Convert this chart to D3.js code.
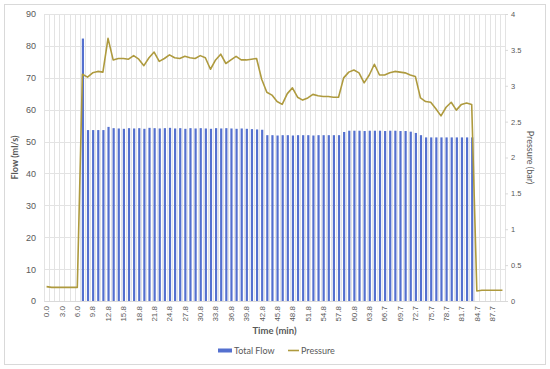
<!DOCTYPE html>
<html>
<head>
<meta charset="utf-8">
<script src="https://cdn.jsdelivr.net/npm/d3@7"></script>
<style>
  body { margin: 0; background: #fff; }
  svg { font-family: Lato, "Open Sans", sans-serif; }
  .tick text { fill: #595959; }
</style>
</head>
<body>
<svg width="550" height="369"></svg>
<script>
// time categories (min)
const times = [
  "0.0", "1.0", "2.0", "3.0", "4.0", "5.0", "6.0", "7.8", "8.8", "9.8",
  "10.8", "11.8", "12.8", "13.8", "14.8", "15.8", "16.8", "17.8", "18.8", "19.8",
  "20.8", "21.8", "22.8", "23.8", "24.8", "25.8", "26.8", "27.8", "28.8", "29.8",
  "30.8", "31.8", "32.8", "33.8", "34.8", "35.8", "36.8", "37.8", "38.8", "39.8",
  "40.8", "41.8", "42.8", "43.8", "44.8", "45.8", "46.8", "47.8", "48.8", "49.8",
  "50.8", "51.8", "52.8", "53.8", "54.8", "55.8", "56.8", "57.8", "58.8", "59.8",
  "60.8", "61.8", "62.8", "63.8", "64.8", "65.7", "66.7", "67.7", "68.7", "69.7",
  "70.7", "71.7", "72.7", "73.7", "74.7", "75.7", "76.7", "77.7", "78.7", "79.7",
  "80.7", "81.7", "82.7", "83.7", "84.7", "85.7", "86.7", "87.7", "88.7", "89.7"
];

// Total Flow (ml/s), null = no bar
const totalFlow = [
  null, null, null, null, null, null, null, 82.3, 53.6, 53.6,
  53.6, 53.6, 54.6, 54.2, 54.1, 54.0, 54.2, 54.1, 54.2, 54.0,
  54.3, 54.2, 54.1, 54.2, 54.3, 54.1, 54.2, 54.0, 54.2, 54.1,
  54.2, 54.1, 54.0, 54.2, 54.1, 54.2, 54.1, 54.0, 54.1, 54.0,
  53.9, 53.8, 53.7, 52.0, 52.0, 51.9, 52.0, 52.0, 51.9, 52.0,
  52.0, 52.0, 51.9, 52.0, 52.0, 52.0, 52.0, 52.0, 53.0, 53.4,
  53.4, 53.4, 53.3, 53.4, 53.4, 53.4, 53.3, 53.4, 53.4, 53.3,
  53.3, 53.1, 52.7, 52.0, 51.3, 51.3, 51.3, 51.3, 51.3, 51.3,
  51.3, 51.3, 51.3, 51.3, null, null, null, null, null, null
];

// Pressure (bar)
const pressure = [
  0.20, 0.19, 0.19, 0.19, 0.19, 0.19, 0.19, 3.16, 3.12, 3.18,
  3.20, 3.19, 3.66, 3.36, 3.38, 3.38, 3.37, 3.42, 3.37, 3.28,
  3.39, 3.47, 3.34, 3.38, 3.43, 3.39, 3.38, 3.41, 3.39, 3.38,
  3.42, 3.39, 3.23, 3.36, 3.44, 3.31, 3.36, 3.41, 3.36, 3.36,
  3.37, 3.38, 3.09, 2.91, 2.87, 2.78, 2.74, 2.89, 2.97, 2.84,
  2.80, 2.83, 2.88, 2.86, 2.85, 2.85, 2.84, 2.84, 3.11, 3.19,
  3.22, 3.18, 3.04, 3.15, 3.30, 3.15, 3.15, 3.18, 3.20, 3.19,
  3.18, 3.15, 3.13, 2.83, 2.78, 2.77, 2.68, 2.58, 2.70, 2.77,
  2.66, 2.74, 2.76, 2.74, 0.14, 0.15, 0.15, 0.15, 0.15, 0.15
];

const flowTicks = [0, 10, 20, 30, 40, 50, 60, 70, 80, 90];
const pressureTicks = [0, 0.5, 1, 1.5, 2, 2.5, 3, 3.5, 4];

const svg = d3.select("svg"),
  width = +svg.attr("width"),
  height = +svg.attr("height");

const plotL = 44, plotR = 505, plotT = 14, plotB = 301;

// chart border
svg.append("rect")
  .attr("x", 4.5)
  .attr("y", 4.5)
  .attr("width", width - 9)
  .attr("height", height - 9)
  .attr("fill", "#fff")
  .attr("stroke", "#d9d9d9");

const x = d3.scaleBand()
  .domain(d3.range(times.length))
  .range([plotL, plotR]);

const yL = d3.scaleLinear().domain([0, 90]).range([plotB, plotT]);
const yR = d3.scaleLinear().domain([0, 4]).range([plotB, plotT]);

// gridlines
const grid = svg.append("g").attr("stroke", "#e3e3e3").attr("stroke-width", 1);

grid.selectAll("line.v")
  .data(d3.range(times.length + 1))
  .enter().append("line")
  .attr("class", "v")
  .attr("x1", (d) => Math.round(plotL + d * x.step()) + 0.5)
  .attr("x2", (d) => Math.round(plotL + d * x.step()) + 0.5)
  .attr("y1", plotT)
  .attr("y2", plotB);

grid.selectAll("line.h")
  .data(flowTicks)
  .enter().append("line")
  .attr("class", "h")
  .attr("x1", plotL)
  .attr("x2", plotR)
  .attr("y1", (d) => Math.round(yL(d)) + 0.5)
  .attr("y2", (d) => Math.round(yL(d)) + 0.5);

// bars
const barW = 2.2;
svg.append("g")
  .selectAll("rect")
  .data(totalFlow.map((v, i) => ({ i: i, v: v })).filter((d) => d.v != null))
  .enter().append("rect")
  .attr("x", (d) => x(d.i) + x.bandwidth() / 2 - barW / 2 + 0.5)
  .attr("width", barW)
  .attr("y", (d) => yL(d.v))
  .attr("height", (d) => yL(0) - yL(d.v))
  .attr("fill", "#5470cf");

// pressure line
const line = d3.line()
  .x((d, i) => x(i) + x.bandwidth() / 2)
  .y((d) => yR(d));

svg.append("path")
  .datum(pressure)
  .attr("fill", "none")
  .attr("stroke", "#ae9a3e")
  .attr("stroke-width", 1.6)
  .attr("stroke-linejoin", "round")
  .attr("d", line);

// axes
const xAxis = svg.append("g")
  .attr("transform", "translate(0," + plotB + ")")
  .call(d3.axisBottom(x)
    .tickValues(d3.range(0, times.length, 3))
    .tickFormat((i) => times[i])
    .tickSize(0));
xAxis.select(".domain").attr("stroke", "#d9d9d9");
xAxis.selectAll("text")
  .attr("transform", "rotate(-90)")
  .attr("x", -5)
  .attr("y", 0)
  .attr("dy", "0.35em")
  .style("text-anchor", "end")
  .style("font-size", "8px");

const yAxisL = svg.append("g")
  .attr("transform", "translate(" + plotL + ",0)")
  .call(d3.axisLeft(yL).tickValues(flowTicks).tickSize(0).tickPadding(8));
yAxisL.select(".domain").remove();
yAxisL.selectAll("text").style("font-size", "9px");

const yAxisR = svg.append("g")
  .attr("transform", "translate(" + plotR + ",0)")
  .call(d3.axisRight(yR).tickValues(pressureTicks).tickSize(3).tickPadding(3)
    .tickFormat((d) => d));
yAxisR.select(".domain").remove();
yAxisR.selectAll("line").attr("stroke", "#d9d9d9");
yAxisR.selectAll("text").style("font-size", "7.5px");

// axis titles
svg.append("text")
  .attr("transform", "translate(18," + (plotT + plotB) / 2 + ") rotate(-90)")
  .attr("text-anchor", "middle")
  .attr("fill", "#595959")
  .attr("font-size", "9px")
  .attr("font-weight", "bold")
  .text("Flow (ml/s)");

svg.append("text")
  .attr("transform", "translate(527," + (plotT + plotB) / 2 + ") rotate(90)")
  .attr("text-anchor", "middle")
  .attr("fill", "#595959")
  .attr("font-size", "9px")
  .text("Pressure (bar)");

svg.append("text")
  .attr("x", (plotL + plotR) / 2)
  .attr("y", 334)
  .attr("text-anchor", "middle")
  .attr("fill", "#595959")
  .attr("font-size", "9.5px")
  .attr("font-weight", "bold")
  .text("Time (min)");

// legend
const legend = svg.append("g").attr("font-size", "9px").attr("fill", "#595959");
legend.append("rect")
  .attr("x", 218).attr("y", 348.5).attr("width", 14).attr("height", 4)
  .attr("fill", "#5470cf");
legend.append("text").attr("x", 234).attr("y", 354).text("Total Flow");
legend.append("line")
  .attr("x1", 288).attr("x2", 299).attr("y1", 350.5).attr("y2", 350.5)
  .attr("stroke", "#ae9a3e").attr("stroke-width", 1.6);
legend.append("text").attr("x", 301).attr("y", 354).text("Pressure");
</script>
</body>
</html>
